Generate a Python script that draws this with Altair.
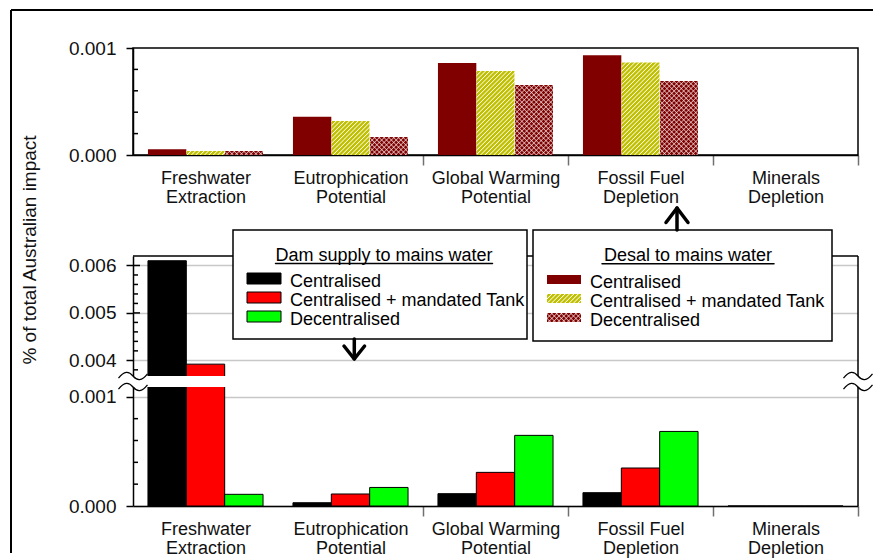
import urllib.parse
import altair as alt
import pandas as pd

# ---------------- data ----------------
categories = ["Freshwater\nExtraction", "Eutrophication\nPotential",
              "Global Warming\nPotential", "Fossil Fuel\nDepletion",
              "Minerals\nDepletion"]
series = ["Centralised", "Centralised + mandated Tank", "Decentralised"]

# Desal to mains water (top panel)
desal_centralised = [0.000053, 0.000358, 0.00086, 0.000932, 0.0]
desal_tank = [0.00004, 0.000318, 0.000785, 0.000866, 0.0]
desal_decentralised = [0.00004, 0.000168, 0.000657, 0.000694, 0.0]

# Dam supply to mains water (bottom panel, broken axis)
dam_centralised = [0.0061, 0.00003, 0.000113, 0.000122, 0.0]
dam_tank = [0.00392, 0.00011, 0.000308, 0.000348, 0.0]
dam_decentralised = [0.000107, 0.00017, 0.000647, 0.000683, 0.0]

top_ticks = [0.0, 0.001]
top_minor = [0.0002, 0.0004, 0.0006, 0.0008]
bottom_ticks = [0.0, 0.001, 0.004, 0.005, 0.006]
bottom_minor = [0.0002, 0.0004, 0.0006, 0.0008, 0.0038, 0.0042, 0.0044,
                0.0046, 0.0048, 0.0052, 0.0054, 0.0056, 0.0058]
bottom_inner_major = [0.005, 0.006]
break_low, break_high = 0.00109, 0.00367
top_domain = [0.0, 0.001]
bottom_domain = [0.0, break_low, break_high, 0.0062]

y_title = "% of total Australian impact"
dam_title = "Dam supply to mains water"
desal_title = "Desal to mains water"

dam_colors = ["#000000", "#ff0000", "#00ff00"]
desal_red = "#800000"
tank_green = "#c0c000"
FONT = "Liberation Sans"


def to_long(vals_list):
    rows = []
    for s, vals in zip(series, vals_list):
        for c, v in zip(categories, vals):
            rows.append({"category": c, "series": s, "value": v})
    return pd.DataFrame(rows)


top_df = to_long([desal_centralised, desal_tank, desal_decentralised])
bot_df = to_long([dam_centralised, dam_tank, dam_decentralised])
one = pd.DataFrame({"k": [0]})


def pattern_uri(bg, cross, cell, lw):
    lines = f'<rect width="{lw}" height="{cell}" fill="#ffffff"/>'
    if cross:
        lines += f'<rect width="{cell}" height="{lw}" fill="#ffffff"/>'
    svg = ('<svg xmlns="http://www.w3.org/2000/svg">'
           f'<defs><pattern id="p" width="{cell}" height="{cell}" patternUnits="userSpaceOnUse" '
           'patternTransform="rotate(45)">'
           f'<rect width="{cell}" height="{cell}" fill="{bg}"/>{lines}</pattern></defs>'
           '<rect width="100%" height="100%" fill="url(#p)"/></svg>')
    return "data:image/svg+xml;charset=utf-8," + urllib.parse.quote(svg)


tank_uri = pattern_uri(tank_green, False, 3.1, 0.75)
cross_uri = pattern_uri(desal_red, True, 3.4, 0.55)

# ---------------- shared encodings ----------------
def x_enc():
    return alt.X("category:N", sort=categories,
                 scale=alt.Scale(domain=categories, paddingInner=0, paddingOuter=0),
                 axis=alt.Axis(title=None, labelExpr="split(datum.label, '\\n')",
                               labelAngle=0, labelFontSize=18, labelLineHeight=19.5,
                               labelPadding=4, tickBand="extent", tickSize=10,
                               tickColor="#707070", tickWidth=1.5,
                               tickOpacity={"condition": {"test": "datum.index == 0 || datum.extra",
                                                          "value": 0}, "value": 1},
                               domainColor="black", domainWidth=1.5,
                               labelColor="#111111", labelFont=FONT))


xo = alt.XOffset("series:N", sort=series,
                 scale=alt.Scale(domain=series, paddingInner=0, paddingOuter=0.39))

top_scale = alt.Scale(domain=top_domain, nice=False)
bot_scale = alt.Scale(domain=bottom_domain, range=[250, 131, 120, 0], nice=False, zero=False)

top_axis = alt.Axis(values=top_ticks, format=".3f", title=None, tickSize=7,
                    tickWidth=1.5, tickColor="black", labelFontSize=19,
                    labelPadding=10, grid=False, domainWidth=1.5,
                    domainColor="black", labelColor="#111111", labelFont=FONT)
bot_axis = alt.Axis(values=bottom_ticks, format=".3f", title=None, tickSize=7,
                    tickWidth=1.5, tickColor="black", labelFontSize=19,
                    labelPadding=10, grid=True, gridColor="#c8c8c8", gridWidth=1.5,
                    domainWidth=1.5, domainColor="black", labelColor="#111111",
                    labelFont=FONT, zindex=0)


def y_top():
    return alt.Y("value:Q", stack=None, scale=top_scale, axis=top_axis)


def y_bot():
    return alt.Y("value:Q", stack=None, scale=bot_scale, axis=bot_axis)


# ---------------- top panel (desal) ----------------
top_central = alt.Chart(top_df).transform_filter(
    alt.datum.series == series[0]).mark_bar(color=desal_red).encode(
    x=x_enc(), xOffset=xo, y=y_top())

top_tank = alt.Chart(top_df).transform_filter(
    alt.datum.series == series[1]).mark_image(aspect=False).encode(
    x=x_enc(), xOffset=xo, y=y_top(), y2=alt.Y2(datum=0), url=alt.value(tank_uri))

top_dec = alt.Chart(top_df).transform_filter(
    alt.datum.series == series[2]).mark_image(aspect=False).encode(
    x=x_enc(), xOffset=xo, y=y_top(), y2=alt.Y2(datum=0), url=alt.value(cross_uri))

top_minor_rules = alt.Chart(pd.DataFrame({"value": top_minor})).mark_rule(
    color="black", strokeWidth=1.5).encode(x=alt.value(0), x2=alt.value(5), y=y_top())

frame_top = alt.Chart(one).mark_rule(color="black", strokeWidth=2).encode(
    x=alt.value(-122), x2=alt.value(740), y=alt.value(-38))
frame_left = alt.Chart(one).mark_rule(color="black", strokeWidth=2).encode(
    x=alt.value(-122), y=alt.value(-38), y2=alt.value(505))
ytitle = alt.Chart(one).mark_text(text=y_title, angle=270, fontSize=19, font=FONT,
                                  align="center", baseline="middle",
                                  color="#111111").encode(
    x=alt.value(-103), y=alt.value(202))

top = alt.layer(top_central, top_tank, top_dec, top_minor_rules,
                frame_top, frame_left, ytitle).properties(
    width=725, height=107,
    view=alt.ViewBackground(stroke="black", strokeWidth=1.5))

# ---------------- bottom panel (dam) ----------------
bars = alt.Chart(bot_df).mark_bar(stroke="black", strokeWidth=1).encode(
    x=x_enc(), xOffset=xo, y=y_bot(),
    color=alt.Color("series:N", scale=alt.Scale(domain=series, range=dam_colors),
                    legend=None))

bot_minor_rules = alt.Chart(pd.DataFrame({"value": bottom_minor})).mark_rule(
    color="black", strokeWidth=1.5).encode(x=alt.value(0), x2=alt.value(5), y=y_bot())
bot_inner_major = alt.Chart(pd.DataFrame({"value": bottom_inner_major})).mark_rule(
    color="black", strokeWidth=1.5).encode(x=alt.value(0), x2=alt.value(7), y=y_bot())

border_top = alt.Chart(one).mark_rule(color="black", strokeWidth=1.5).encode(
    x=alt.value(0), x2=alt.value(725), y=alt.value(0))
border_right = alt.Chart(one).mark_rule(color="black", strokeWidth=1.5).encode(
    x=alt.value(725), y=alt.value(0), y2=alt.value(250))

gap_df = pd.DataFrame({"value": [break_high], "low": [break_low]})
gap = alt.Chart(gap_df).mark_rect(color="white").encode(
    x=alt.value(-16), x2=alt.value(741), y=y_bot(), y2="low:Q")

tilde = "M -1 0.15 C -0.6 -0.35 -0.3 -0.35 0 0 C 0.3 0.35 0.6 0.35 1 -0.15"
break_df = pd.DataFrame({"value": [break_low, break_high]})
breaks_left = alt.Chart(break_df).mark_point(
    shape=tilde, size=841, filled=False, stroke="black", strokeWidth=1.3,
    opacity=1).encode(x=alt.value(0), y=y_bot())
breaks_right = alt.Chart(break_df).mark_point(
    shape=tilde, size=841, filled=False, stroke="black", strokeWidth=1.3,
    opacity=1).encode(x=alt.value(725), y=y_bot())

# ---------------- legend boxes ----------------
legend_layers = []


def box(x1, x2, y1, y2):
    return alt.Chart(one).mark_rect(fill="white", stroke="black", strokeWidth=1.5).encode(
        x=alt.value(x1), x2=alt.value(x2), y=alt.value(y1), y2=alt.value(y2))


def text(label, x, y, align="left"):
    return alt.Chart(one).mark_text(text=label, fontSize=18, font=FONT, align=align,
                                    baseline="alphabetic", color="black").encode(
        x=alt.value(x), y=alt.value(y))


def line(x1, x2, y1, y2, w=1.5):
    return alt.Chart(one).mark_rule(color="black", strokeWidth=w, strokeCap="round").encode(
        x=alt.value(x1), x2=alt.value(x2), y=alt.value(y1), y2=alt.value(y2))


# Dam legend
legend_layers.append(box(100, 394, -26, 83))
legend_layers.append(text(dam_title, 251, 4.5, "center"))
legend_layers.append(line(142.5, 359.5, 7.5, 7.5))
for i, (s, c) in enumerate(zip(series, dam_colors)):
    y0 = 17 + 19 * i
    legend_layers.append(alt.Chart(one).mark_rect(fill=c, stroke="black", strokeWidth=1).encode(
        x=alt.value(114), x2=alt.value(148), y=alt.value(y0), y2=alt.value(y0 + 11)))
    legend_layers.append(text(s, 157, 30.5 + 19 * i))
# arrow down
legend_layers.append(line(221.3, 221.3, 83, 102, 3.5))
legend_layers.append(line(211, 221.3, 90, 103, 3.5))
legend_layers.append(line(231.6, 221.3, 90, 103, 3.5))

# Desal legend
legend_layers.append(box(400, 699, -26, 85))
legend_layers.append(text(desal_title, 555, 5, "center"))
legend_layers.append(line(469, 641, 7.7, 7.7))
for i, s in enumerate(series):
    y0 = 19 + 19 * i
    if i == 0:
        legend_layers.append(alt.Chart(one).mark_rect(fill=desal_red).encode(
            x=alt.value(414), x2=alt.value(448), y=alt.value(y0), y2=alt.value(y0 + 9)))
    else:
        uri = tank_uri if i == 1 else cross_uri
        legend_layers.append(alt.Chart(one).mark_image(aspect=False).encode(
            x=alt.value(414), x2=alt.value(448), y=alt.value(y0), y2=alt.value(y0 + 9),
            url=alt.value(uri)))
    legend_layers.append(text(s, 457, 31.7 + 19 * i))
# arrow up
legend_layers.append(line(544, 544, -26, -47, 3.5))
legend_layers.append(line(533, 544, -33.5, -48, 3.5))
legend_layers.append(line(555, 544, -33.5, -48, 3.5))

bottom = alt.layer(bars, bot_minor_rules, bot_inner_major, border_top, border_right,
                   gap, breaks_left, breaks_right, *legend_layers).properties(
    width=725, height=250,
    view=alt.ViewBackground(stroke="transparent"))

chart = alt.vconcat(top, bottom, spacing=101, bounds="flush").properties(
    padding={"left": 1, "top": 0, "right": 0, "bottom": 0},
    background="white",
).configure(font=FONT)

chart.save("out.html", embed_options={"renderer": "svg", "actions": False})
